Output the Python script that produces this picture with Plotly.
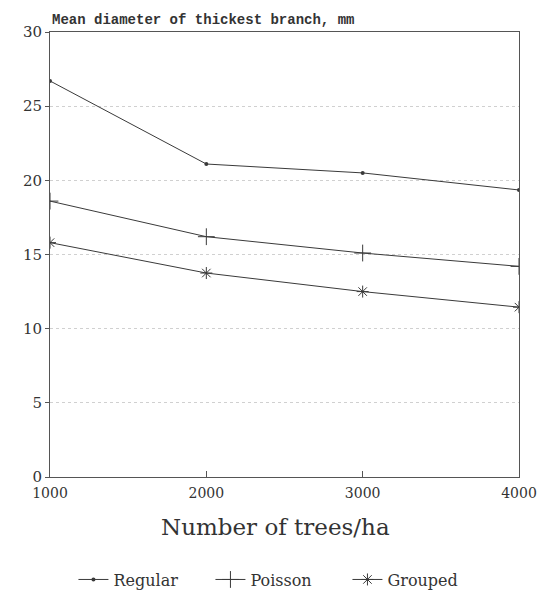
import plotly.graph_objects as go

density = [1000, 2000, 3000, 4000]
regular = [26.7, 21.1, 20.5, 19.35]
poisson = [18.6, 16.2, 15.1, 14.2]
grouped = [15.8, 13.75, 12.5, 11.45]

line_col = "#3a3a3a"
font_fam = "DejaVu Serif"

fig = go.Figure()
fig.add_trace(go.Scatter(x=density, y=regular, name="Regular", mode="lines+markers",
                         line=dict(color=line_col, width=1),
                         marker=dict(symbol="circle", size=4, color=line_col)))
fig.add_trace(go.Scatter(x=density, y=poisson, name="Poisson", mode="lines+markers",
                         line=dict(color=line_col, width=1),
                         marker=dict(symbol="cross-thin", size=12, line=dict(color=line_col, width=1))))
fig.add_trace(go.Scatter(x=density, y=grouped, name="Grouped", mode="lines+markers",
                         line=dict(color=line_col, width=1),
                         marker=dict(symbol="asterisk", size=10, line=dict(color=line_col, width=1))))

fig.update_layout(
    width=540, height=592,
    margin=dict(l=50, r=21, t=32, b=115),
    paper_bgcolor="white", plot_bgcolor="white",
    font=dict(family=font_fam, color="#333", size=14),
    showlegend=True,
    legend=dict(orientation="h", x=0.05, xanchor="left", yref="container", y=0.021, yanchor="middle",
                font=dict(size=16, family=font_fam), entrywidth=92, entrywidthmode="pixels"),
    xaxis=dict(range=[1000, 4000], tickvals=density, ticktext=[str(v) for v in density],
               showline=True, linecolor="#555", linewidth=1, mirror=True, automargin=False,
               ticks="inside", ticklen=6, tickcolor="#555", showgrid=False, zeroline=False,
               ticklabelstandoff=3,
               tickfont=dict(size=14, family=font_fam)),
    yaxis=dict(range=[0, 30], tickvals=[0, 5, 10, 15, 20, 25, 30], automargin=False,
               showline=True, linecolor="#555", linewidth=1, mirror=True,
               ticks="outside", ticklen=4, tickcolor="#555",
               showgrid=True, gridcolor="#d0d0d0", griddash="dot", gridwidth=1, zeroline=False,
               tickfont=dict(size=15, family=font_fam)),
)

fig.add_annotation(text="Number of trees/ha", xref="paper", yref="paper",
                   x=0.48, y=-0.1124, xanchor="center", yanchor="middle", showarrow=False,
                   font=dict(size=23, family=font_fam, color="#333"))

fig.add_annotation(text="Mean diameter of thickest branch, mm", xref="paper", yref="paper",
                   x=0, y=1, xanchor="left", yanchor="bottom", yshift=2, showarrow=False,
                   font=dict(size=14, family="Liberation Mono", color="#333", weight="bold"))

fig.write_html("out.html")
